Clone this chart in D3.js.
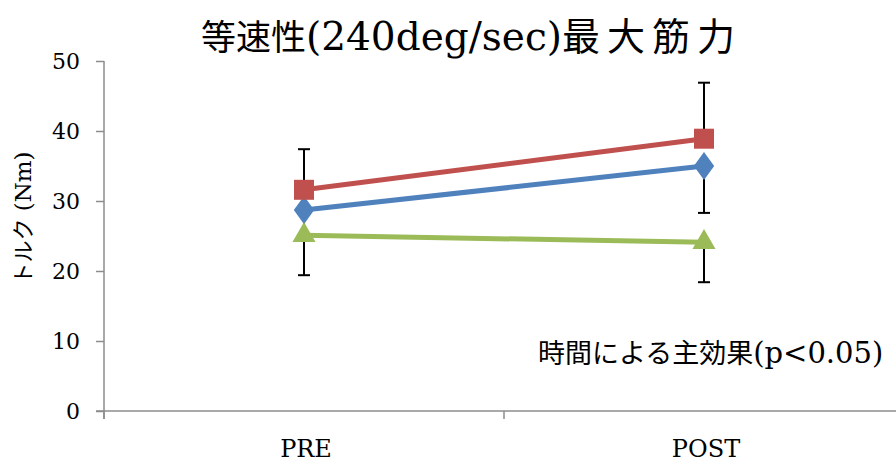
<!DOCTYPE html>
<html><head><meta charset="utf-8">
<script src="https://cdn.jsdelivr.net/npm/d3@7/dist/d3.min.js"></script>
<style>body{margin:0;background:#fff}svg{display:block}text{font-family:"DejaVu Serif","Noto Sans CJK JP",serif}</style>
</head><body>
<script>
const categories = ["PRE", "POST"];
const blueValues = [28.7, 35.0];
const redValues = [31.6, 38.9];
const greenValues = [25.1, 24.1];
const blueErrLow = [4.0, 6.7];
const redErrHigh = [5.8, 8.0];
const greenErrLow = [5.7, 5.7];
const yTicks = [0, 10, 20, 30, 40, 50];
const titleParts = ["等速性", "(240deg/sec)", "最大筋力"];
const yLabelParts = ["トルク", " (Nm)"];
const noteParts = ["時間による主効果", "(p<0.05)"];

const W = 896, H = 462;
const CJK = "Noto Sans CJK JP";
const LAT = "DejaVu Serif";
const svg = d3.select("body").append("svg").attr("width", W).attr("height", H);
const x = d3.scaleBand().domain(categories).range([104, 904]).padding(0);
const y = d3.scaleLinear().domain([0, 50]).range([411, 61]);
const cx = c => x(c) + x.bandwidth() / 2;
const axisColor = "#8c8c8c";

// y axis
const yAxis = svg.append("g").attr("transform", "translate(104,0)")
  .call(d3.axisLeft(y).tickValues(yTicks).tickSize(8).tickPadding(16));
yAxis.select(".domain").attr("stroke", axisColor).attr("stroke-width", 1.5).attr("d", "M0,61V419");
yAxis.selectAll(".tick line").attr("stroke", axisColor).attr("stroke-width", 1.5);
yAxis.selectAll(".tick text").attr("font-size", 22).attr("fill", "#000").attr("font-family", LAT);

// x axis
const xAxis = svg.append("g").attr("transform", "translate(0,411)")
  .call(d3.axisBottom(x).tickSize(0).tickFormat(""));
xAxis.select(".domain").attr("stroke", axisColor).attr("stroke-width", 1.5).attr("d", "M96,0H904");
xAxis.selectAll(".tick").remove();
const xb = [...categories.map(c => x(c)), x.range()[1]];
svg.append("g").selectAll("line").data(xb).join("line")
  .attr("x1", d => d).attr("x2", d => d).attr("y1", 411).attr("y2", 419)
  .attr("stroke", axisColor).attr("stroke-width", 1.5);
svg.append("g").selectAll("text").data(categories).join("text")
  .attr("x", d => cx(d) + 2).attr("y", 457).attr("text-anchor", "middle")
  .attr("font-size", 24).attr("font-family", LAT).text(d => d);

// error bars
const errs = [];
categories.forEach((c, i) => {
  errs.push([c, redValues[i], redValues[i] + redErrHigh[i]]);
  errs.push([c, blueValues[i], blueValues[i] - blueErrLow[i]]);
  errs.push([c, greenValues[i], greenValues[i] - greenErrLow[i]]);
});
const eg = svg.append("g").attr("stroke", "#000").attr("stroke-width", 2);
errs.forEach(([c, v0, v1]) => {
  eg.append("line").attr("x1", cx(c)).attr("x2", cx(c)).attr("y1", y(v0)).attr("y2", y(v1));
  eg.append("line").attr("x1", cx(c) - 6).attr("x2", cx(c) + 6).attr("y1", y(v1)).attr("y2", y(v1));
});

const series = [
  {vals: blueValues, color: "#4f81bd", sym: d3.symbolDiamond, size: 230},
  {vals: redValues, color: "#c0504d", sym: d3.symbolSquare, size: 400},
  {vals: greenValues, color: "#9bbb59", sym: d3.symbolTriangle, size: 230}
];
const line = d3.line().x((d, i) => cx(categories[i])).y(d => y(d));
series.forEach(s => {
  svg.append("path").datum(s.vals).attr("d", line).attr("fill", "none")
    .attr("stroke", s.color).attr("stroke-width", 5);
});
series.forEach(s => {
  svg.append("g").selectAll("path").data(s.vals).join("path")
    .attr("d", d3.symbol().type(s.sym).size(s.size))
    .attr("transform", (d, i) => `translate(${cx(categories[i])},${y(d)})` + (s.sym === d3.symbolDiamond ? " scale(1.25,1)" : ""))
    .attr("fill", s.color);
});

// title
const t = svg.append("text").attr("x", 201).attr("y", 50);
t.append("tspan").attr("font-family", CJK).attr("font-size", 35).text(titleParts[0]);
t.append("tspan").attr("font-family", LAT).attr("font-size", 39).text(titleParts[1]);
t.append("tspan").attr("font-family", CJK).attr("font-size", 38).attr("letter-spacing", 7).text(titleParts[2]);

// y label
const yl = svg.append("text").attr("transform", "translate(31,218) rotate(-90)").attr("text-anchor", "middle");
yl.append("tspan").attr("font-family", CJK).attr("font-size", 22).text(yLabelParts[0]);
yl.append("tspan").attr("font-family", LAT).attr("font-size", 23).text(yLabelParts[1]);

// note
const n = svg.append("text").attr("x", 538).attr("y", 363);
n.append("tspan").attr("font-family", CJK).attr("font-size", 27).text(noteParts[0]);
n.append("tspan").attr("font-family", LAT).attr("font-size", 29).text(noteParts[1]);
</script>
</body></html>
